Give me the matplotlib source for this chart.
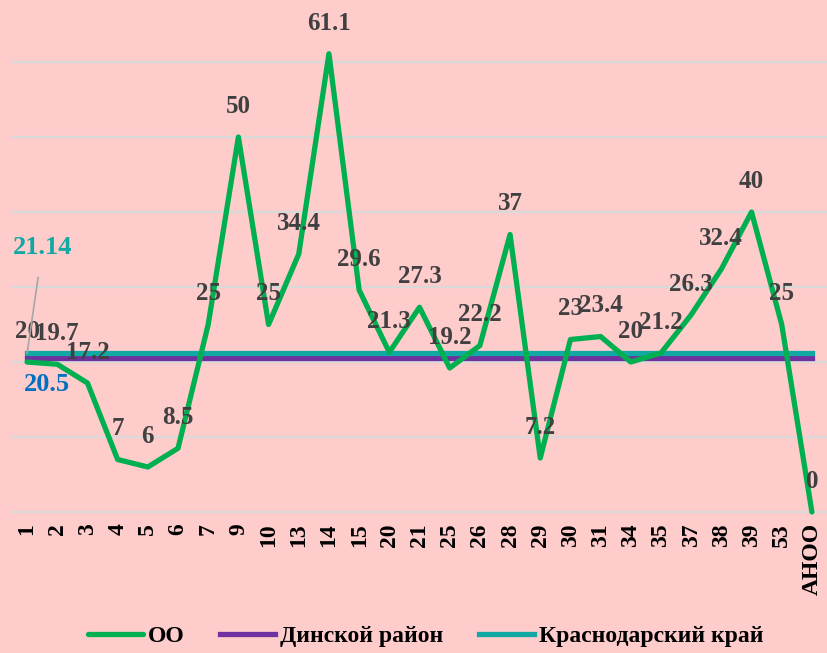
import matplotlib
matplotlib.use("Agg")
import matplotlib.pyplot as plt

categories = ["1", "2", "3", "4", "5", "6", "7", "9", "10", "13", "14", "15", "20", "21",
              "25", "26", "28", "29", "30", "31", "34", "35", "37", "38", "39", "53", "АНОО"]
oo_values = [20, 19.7, 17.2, 7, 6, 8.5, 25, 50, 25, 34.4, 61.1, 29.6, 21.3, 27.3,
             19.2, 22.2, 37, 7.2, 23, 23.4, 20, 21.2, 26.3, 32.4, 40, 25, 0]
dinskoy_value = 20.5
krasnodar_value = 21.14
series_names = ["ОО", "Динской район", "Краснодарский край"]

BG = "#FFCCCC"
GREEN = "#00B050"
PURPLE = "#7030A0"
TEAL = "#12A8A3"
BLUE = "#0070C0"
LABEL = "#404040"

plt.rcParams['font.family'] = ['Liberation Serif', 'DejaVu Serif']
plt.rcParams['font.weight'] = 'bold'

fig = plt.figure(figsize=(8.27, 6.53), dpi=100, facecolor=BG)
ax = fig.add_axes([12/827, 1-512/653, 1-12/827, 512/653])
ax.set_facecolor(BG)

x = list(range(len(categories)))
ax.set_xlim(-0.5, len(categories) - 0.5)
ax.set_ylim(0, 68.27)

for yv in range(0, 70, 10):
    ax.axhline(yv, color="#D9D9D9", lw=1.6, zorder=1, clip_on=False)

l1, = ax.plot(x, oo_values, color=GREEN, lw=3.8, zorder=4, clip_on=False,
              solid_joinstyle='round', solid_capstyle='round')
l2, = ax.plot(x, [dinskoy_value]*len(x), color=PURPLE, lw=3.8, zorder=3, clip_on=False)
l3, = ax.plot(x, [krasnodar_value]*len(x), color=TEAL, lw=3.8, zorder=3.5, clip_on=False)

for xi, v in zip(x, oo_values):
    ax.annotate(f"{v:g}", (xi, v), xytext=(0, 22), textcoords="offset points",
                ha="center", va="center", fontsize=18, fontweight="bold",
                color=LABEL, zorder=6, annotation_clip=False)

ax.annotate(f"{dinskoy_value:g}", (0, dinskoy_value), xytext=(14, -19),
            textcoords="offset points", ha="center", va="center",
            fontsize=19, fontweight="bold", color=BLUE, zorder=6)
ax.annotate(f"{krasnodar_value:g}", (0, krasnodar_value), xytext=(11, 76),
            textcoords="offset points", ha="center", va="center",
            fontsize=19, fontweight="bold", color=TEAL, zorder=6,
            arrowprops=dict(arrowstyle="-", color="#A6A6A6", lw=1.2,
                            shrinkA=11, shrinkB=0))

ax.set_xticks(x)
ax.set_xticklabels(categories, rotation=90, fontsize=17, fontweight="bold", color="black")
ax.tick_params(axis='x', length=0, pad=8)
ax.set_yticks([])
for s in ax.spines.values():
    s.set_visible(False)

leg = fig.legend([l1, l2, l3], series_names, loc="center",
                 bbox_to_anchor=(0.5 + 12/827, 1-636/653),
                 ncol=3, frameon=False, prop={'family': 'Liberation Serif', 'weight': 'bold', 'size': 17},
                 handlelength=2.35, handletextpad=0.2, columnspacing=1.5)

fig.savefig("out.png", dpi=100, facecolor=BG)
